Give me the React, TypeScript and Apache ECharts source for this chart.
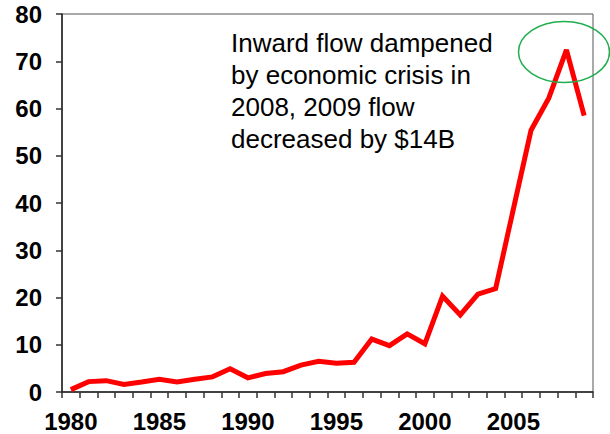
import React, { useEffect, useRef } from "react";
import * as echarts from "echarts";

const years: string[] = [
  "1980", "1981", "1982", "1983", "1984", "1985", "1986", "1987", "1988", "1989",
  "1990", "1991", "1992", "1993", "1994", "1995", "1996", "1997", "1998", "1999",
  "2000", "2001", "2002", "2003", "2004", "2005", "2006", "2007", "2008", "2009",
];

const inwardFlow: number[] = [
  0.5, 2.2, 2.4, 1.6, 2.1, 2.7, 2.1, 2.7, 3.2, 4.9,
  3.0, 3.9, 4.3, 5.7, 6.5, 6.1, 6.3, 11.2, 9.8, 12.3,
  10.2, 20.3, 16.3, 20.7, 21.9, 38.7, 55.4, 62.2, 72.4, 58.5,
];

const annotationLines: string[] = [
  "Inward flow dampened",
  "by economic crisis in",
  "2008, 2009 flow",
  "decreased by $14B",
];

const FONT = "'Liberation Sans', Arial, Helvetica, sans-serif";

export default function App() {
  const ref = useRef<HTMLDivElement>(null);

  useEffect(() => {
    if (!ref.current) return;
    const chart = echarts.init(ref.current, null, { renderer: "svg" });
    chart.setOption({
      animation: false,
      backgroundColor: "#ffffff",
      grid: {
        left: 62,
        right: 17,
        top: 14,
        bottom: 42,
        show: true,
        borderColor: "#555555",
        borderWidth: 1,
        backgroundColor: "transparent",
      },
      xAxis: {
        type: "category",
        data: years,
        boundaryGap: true,
        axisLine: { show: true, lineStyle: { color: "#222222", width: 1.5 } },
        axisTick: {
          show: true,
          interval: 0,
          length: 6,
          inside: false,
          lineStyle: { color: "#333333", width: 1.5 },
        },
        axisLabel: {
          interval: 4,
          margin: 17,
          color: "#000000",
          fontFamily: FONT,
          fontSize: 24,
          fontWeight: "bold",
        },
        splitLine: { show: false },
      },
      yAxis: {
        type: "value",
        min: 0,
        max: 80,
        interval: 10,
        axisLine: { show: true, lineStyle: { color: "#222222", width: 1.5 } },
        axisTick: {
          show: true,
          length: 6,
          lineStyle: { color: "#333333", width: 1.5 },
        },
        axisLabel: {
          margin: 20,
          color: "#000000",
          fontFamily: FONT,
          fontSize: 24,
          fontWeight: "bold",
        },
        splitLine: { show: false },
      },
      series: [
        {
          type: "line",
          data: inwardFlow,
          symbol: "none",
          lineStyle: { color: "#ff0000", width: 5, join: "miter", miterLimit: 3 },
          z: 3,
        },
      ],
      graphic: [
        {
          type: "text",
          left: 231,
          top: 27,
          z: 10,
          style: {
            text: annotationLines.join("\n"),
            font: `26px ${FONT}`,
            fill: "#000000",
            lineHeight: 32,
          },
        },
        {
          type: "ellipse",
          z: 10,
          shape: { cx: 564, cy: 52, rx: 45.5, ry: 30.5 },
          style: { fill: "none", stroke: "#1fae4f", lineWidth: 1.5 },
        },
      ],
    });
    return () => chart.dispose();
  }, []);

  return (
    <div
      ref={ref}
      style={{ position: "fixed", left: 0, top: 0, width: 610, height: 434 }}
    />
  );
}
